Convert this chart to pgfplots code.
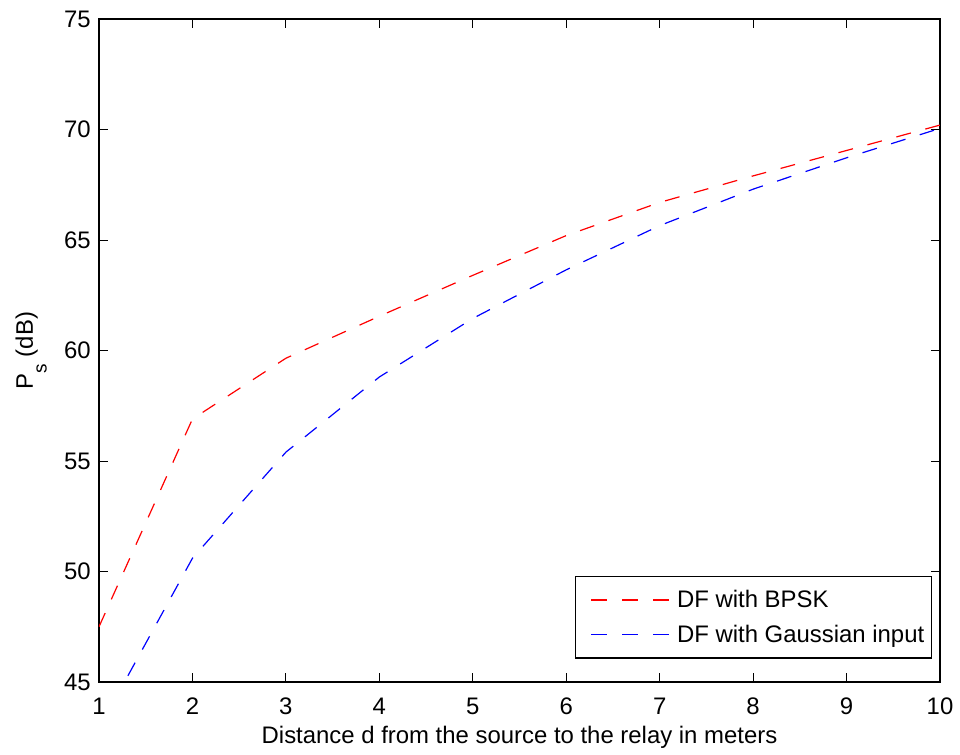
\documentclass[border=0pt]{standalone}
\usepackage{fontspec}
\setmainfont{Liberation Sans}
\usepackage{pgfplots}
\pgfplotsset{compat=1.18}
\begin{document}
\begin{tikzpicture}
\begin{axis}[
  scale only axis, width=841bp, height=663bp,
  xmin=1, xmax=10, ymin=45, ymax=75,
  xtick={1,2,3,4,5,6,7,8,9,10}, ytick={45,50,55,60,65,70,75},
  tick align=inside, major tick length=9bp,
  every tick/.style={black, line width=0.8bp},
  axis line style={line width=1.5bp},
  /pgf/number format/assume math mode=true,
  ticklabel style={font=\fontsize{24}{28}\selectfont},
  xticklabel style={anchor=base, inner sep=0pt, yshift=-32bp},
  yticklabel style={anchor=east, inner sep=0pt, xshift=-8bp},
  every axis x label/.style={at={(axis description cs:0.5,-0.0935)}, anchor=base, inner sep=0pt,
    font=\fontsize{24}{28}\selectfont},
  every axis y label/.style={at={(axis description cs:-0.0785,0.5)}, rotate=90, anchor=base, inner sep=0pt,
    font=\fontsize{24}{28}\selectfont},
  xlabel={Distance d from the source to the relay in meters},
  ylabel={P\raisebox{-13.7bp}{\fontsize{19}{19}\selectfont s} (dB)},
  legend cell align=left,
  legend style={at={(axis description cs:0.9905,0.0347)}, anchor=south east,
    draw=black, line width=1.5bp, font=\fontsize{24}{28}\selectfont,
    inner xsep=7bp, inner ysep=12bp, row sep=11.7bp, column sep=7bp,
    nodes={inner sep=0pt, text height=19bp, text depth=4bp}},
  legend image code/.code={\path[draw=none] (0bp,0bp) -- (9bp,0bp);
    \draw[#1, dash pattern=on 16bp off 15bp] (9bp,0bp) -- (87bp,0bp);},
]
\addplot[red, line width=1.2bp, dash pattern=on 15bp off 15bp] coordinates {
  (1,47.5) (2,56.9) (3,59.65) (4,61.55) (5,63.4) (6,65.2) (7,66.7) (8,67.9) (9,69.05) (10,70.2)
};
\addlegendentry{DF with BPSK}
\addplot[blue, line width=1.2bp, dash pattern=on 15bp off 15bp] coordinates {
  (1,42.9) (2,50.6) (3,55.4) (4,58.8) (5,61.45) (6,63.65) (7,65.65) (8,67.3) (9,68.72) (10,70.05)
};
\addlegendentry{DF with Gaussian input}
\end{axis}
\pgfresetboundingbox
\path[use as bounding box] (current axis.south west) ++(-99bp,-73bp) rectangle ++(960bp,755bp);
\end{tikzpicture}
\end{document}
